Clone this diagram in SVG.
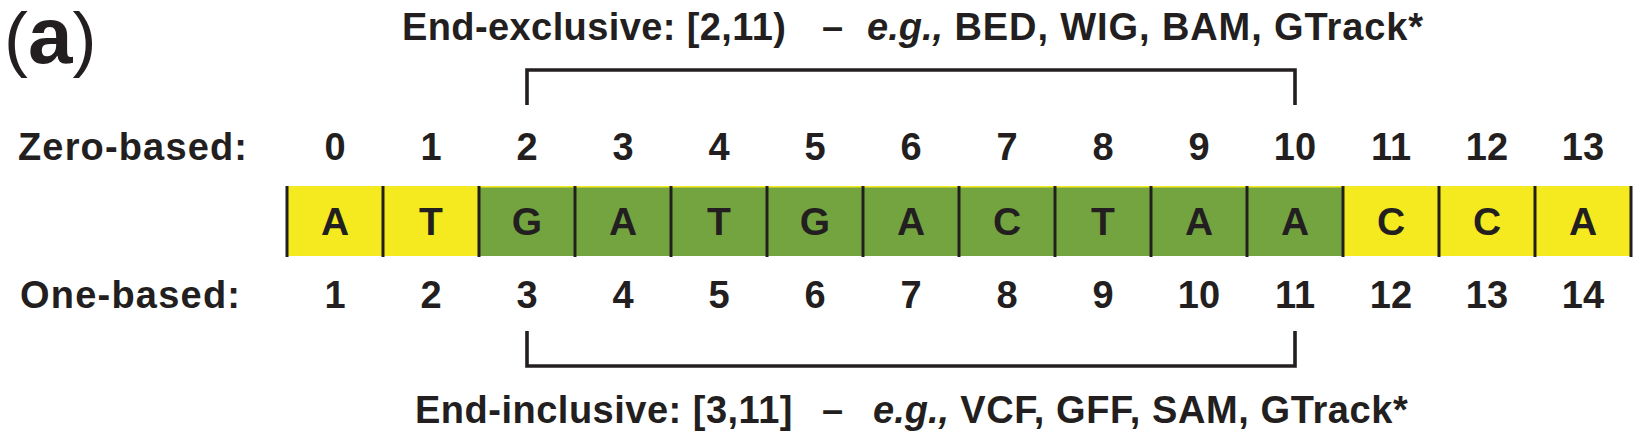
<svg xmlns="http://www.w3.org/2000/svg" width="1646" height="434" viewBox="0 0 1646 434">
<style>
text{font-family:"Liberation Sans",Arial,Helvetica,sans-serif;fill:#231f20;font-weight:bold}
.num{font-size:38px;text-anchor:middle}
.base{font-size:39px;text-anchor:middle}
.lbl{font-size:38px}
.ttl{font-size:38px}
.it{font-style:italic}
.div{stroke:#231f20;stroke-width:3}
.br{fill:none;stroke:#231f20;stroke-width:3.6;stroke-linecap:butt;stroke-linejoin:miter}
.y{fill:#f5ea1f}
.g{fill:#74a440}
</style>
<rect width="1646" height="434" fill="#ffffff"/>
<text id="panel" x="4" y="63" style="font-size:72px"><tspan font-weight="normal">(</tspan><tspan style="font-size:80px">a</tspan><tspan font-weight="normal">)</tspan></text>
<text id="title-top" class="ttl" y="39.5"><tspan x="402" letter-spacing="0.4">End-exclusive: [2,11)</tspan><tspan x="822">–</tspan><tspan x="867" class="it">e.g.,</tspan><tspan letter-spacing="0.9"> BED, WIG, BAM, GTrack*</tspan></text>
<text id="title-bottom" class="ttl" y="423"><tspan x="415" letter-spacing="0.5">End-inclusive: [3,11]</tspan><tspan x="822">–</tspan><tspan x="873" class="it">e.g.,</tspan><tspan letter-spacing="0.6"> VCF, GFF, SAM, GTrack*</tspan></text>
<text id="label-zero" class="lbl" x="18" y="160" textLength="229" lengthAdjust="spacing">Zero-based:</text>
<text id="label-one" class="lbl" x="20" y="308" textLength="220" lengthAdjust="spacing">One-based:</text>
<g id="zero-based">
<text class="num" x="335" y="160">0</text><text class="num" x="431" y="160">1</text><text class="num" x="527" y="160">2</text><text class="num" x="623" y="160">3</text><text class="num" x="719" y="160">4</text><text class="num" x="815" y="160">5</text><text class="num" x="911" y="160">6</text><text class="num" x="1007" y="160">7</text><text class="num" x="1103" y="160">8</text><text class="num" x="1199" y="160">9</text><text class="num" x="1295" y="160">10</text><text class="num" x="1391" y="160">11</text><text class="num" x="1487" y="160">12</text><text class="num" x="1583" y="160">13</text>
</g>
<g id="one-based">
<text class="num" x="335" y="308">1</text><text class="num" x="431" y="308">2</text><text class="num" x="527" y="308">3</text><text class="num" x="623" y="308">4</text><text class="num" x="719" y="308">5</text><text class="num" x="815" y="308">6</text><text class="num" x="911" y="308">7</text><text class="num" x="1007" y="308">8</text><text class="num" x="1103" y="308">9</text><text class="num" x="1199" y="308">10</text><text class="num" x="1295" y="308">11</text><text class="num" x="1391" y="308">12</text><text class="num" x="1487" y="308">13</text><text class="num" x="1583" y="308">14</text>
</g>
<g id="sequence">
<rect class="y" x="287" y="186" width="1344" height="70"/>
<rect class="g" x="479" y="187.5" width="864" height="68.5"/>
<g id="cell-0"><text class="base" x="335" y="235">A</text></g>
<g id="cell-1"><text class="base" x="431" y="235">T</text></g>
<g id="cell-2"><text class="base" x="527" y="235">G</text></g>
<g id="cell-3"><text class="base" x="623" y="235">A</text></g>
<g id="cell-4"><text class="base" x="719" y="235">T</text></g>
<g id="cell-5"><text class="base" x="815" y="235">G</text></g>
<g id="cell-6"><text class="base" x="911" y="235">A</text></g>
<g id="cell-7"><text class="base" x="1007" y="235">C</text></g>
<g id="cell-8"><text class="base" x="1103" y="235">T</text></g>
<g id="cell-9"><text class="base" x="1199" y="235">A</text></g>
<g id="cell-10"><text class="base" x="1295" y="235">A</text></g>
<g id="cell-11"><text class="base" x="1391" y="235">C</text></g>
<g id="cell-12"><text class="base" x="1487" y="235">C</text></g>
<g id="cell-13"><text class="base" x="1583" y="235">A</text></g>
<g id="dividers">
<line class="div" x1="287" y1="186" x2="287" y2="257"/><line class="div" x1="383" y1="186" x2="383" y2="257"/><line class="div" x1="479" y1="186" x2="479" y2="257"/><line class="div" x1="575" y1="186" x2="575" y2="257"/><line class="div" x1="671" y1="186" x2="671" y2="257"/><line class="div" x1="767" y1="186" x2="767" y2="257"/><line class="div" x1="863" y1="186" x2="863" y2="257"/><line class="div" x1="959" y1="186" x2="959" y2="257"/><line class="div" x1="1055" y1="186" x2="1055" y2="257"/><line class="div" x1="1151" y1="186" x2="1151" y2="257"/><line class="div" x1="1247" y1="186" x2="1247" y2="257"/><line class="div" x1="1343" y1="186" x2="1343" y2="257"/><line class="div" x1="1439" y1="186" x2="1439" y2="257"/><line class="div" x1="1535" y1="186" x2="1535" y2="257"/><line class="div" x1="1631" y1="186" x2="1631" y2="257"/>
</g>
</g>
<g id="connectors">
<path id="bracket-top" class="br" d="M527,105 V70 H1295 V105"/>
<path id="bracket-bottom" class="br" d="M527,331 V366 H1295 V331"/>
</g>
</svg>
